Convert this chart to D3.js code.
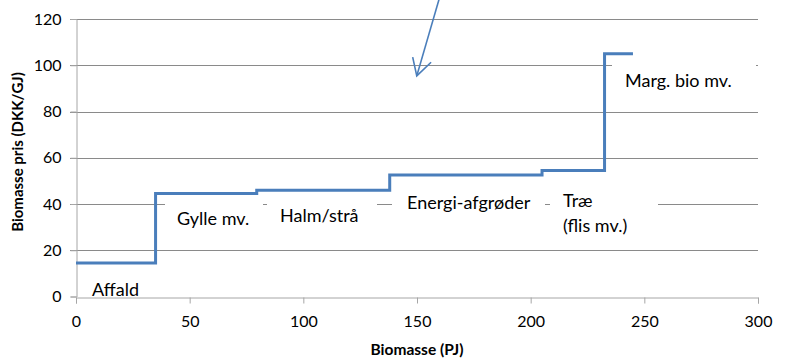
<!DOCTYPE html>
<html>
<head>
<meta charset="utf-8">
<script src="https://cdn.jsdelivr.net/npm/d3@7"></script>
<style>
  html, body { margin: 0; padding: 0; background: #fff; }
  svg { display: block; }
  text { font-family: Lato, "Open Sans", sans-serif; fill: #000; }
</style>
</head>
<body>
<svg id="chart" width="787" height="358"></svg>
<script>
// ---- data ----
const stepStarts = [0, 35, 79.5, 138, 205, 232.5];
const stepEnd = 245;
const prices = [14.5, 44.5, 46, 52.5, 54.5, 105];
const categories = ["Affald", "Gylle mv.", "Halm/strå", "Energi-afgrøder", "Træ\n(flis mv.)", "Marg. bio mv."];
const xTicks = [0, 50, 100, 150, 200, 250, 300];
const yTicks = [0, 20, 40, 60, 80, 100, 120];
const xTitle = "Biomasse (PJ)";
const yTitle = "Biomasse pris (DKK/GJ)";

// ---- layout ----
const W = 787, H = 358;
const plot = { left: 76, right: 758, top: 19, bottom: 296.5 };
const svg = d3.select("#chart");
const x = d3.scaleLinear().domain([0, 300]).range([plot.left, plot.right]);
const y = d3.scaleLinear().domain([0, 120]).range([plot.bottom, plot.top]);

const gridColor = "#8a8a8a";
const axisColor = "#a6a6a6";
const lineColor = "#4a7ebb";

// gridlines (y ticks > 0)
svg.append("g").selectAll("line").data(yTicks.filter(d => d > 0)).join("line")
  .attr("x1", plot.left - 6).attr("x2", plot.right)
  .attr("y1", d => Math.round(y(d)) + 0.5).attr("y2", d => Math.round(y(d)) + 0.5)
  .attr("stroke", gridColor).attr("stroke-width", 1);

// axes
const yAxis = d3.axisLeft(y).tickValues(yTicks).tickSize(6).tickPadding(9);
const gy = svg.append("g").attr("transform", `translate(${plot.left + 0.5},0)`).call(yAxis);
gy.select(".domain").attr("stroke", axisColor);
gy.selectAll(".tick line").attr("stroke", axisColor);
gy.selectAll(".tick text").style("font-size", "16px").style("font-family", "Lato, sans-serif").attr("fill", "#1a1a1a");

const xAxis = d3.axisBottom(x).tickValues(xTicks).tickSize(6).tickPadding(12);
const gx = svg.append("g").attr("transform", `translate(0,${Math.round(plot.bottom) + 0.5})`).call(xAxis);
gx.select(".domain").attr("stroke", axisColor);
gx.selectAll(".tick line").attr("stroke", axisColor);
gx.selectAll(".tick text").style("font-size", "16px").style("font-family", "Lato, sans-serif").attr("fill", "#1a1a1a");

// label boxes (white backgrounds hiding gridlines) in pixel layout
const labelLayout = [
  { box: null, tx: 92, ty: 296, },
  { box: [165, 196, 98, 34], tx: 177, ty: 225 },
  { box: [267, 196, 110, 32], tx: 280, ty: 222 },
  { box: [392, 186, 153, 30], tx: 407, ty: 209 },
  { box: [550, 184, 108, 62], tx: 563, ty: 207, lh: 25 },
  { box: [612, 58, 144, 40], tx: 625, ty: 87 }
];
const gl = svg.append("g");
labelLayout.forEach((L, i) => {
  if (L.box) gl.append("rect").attr("x", L.box[0]).attr("y", L.box[1])
    .attr("width", L.box[2]).attr("height", L.box[3]).attr("fill", "#fff");
  const t = gl.append("text").attr("x", L.tx).attr("y", L.ty).style("font-size", "18px");
  categories[i].split("\n").forEach((s, j) => {
    t.append("tspan").attr("x", L.tx).attr("dy", j === 0 ? 0 : (L.lh || 20)).text(s);
  });
});

// step line
const xs = stepStarts.concat([stepEnd]);
const ys = prices.concat([prices[prices.length - 1]]);
const line = d3.line().x((d, i) => x(xs[i])).y(d => y(d)).curve(d3.curveStepAfter);
svg.append("path").datum(ys).attr("d", line)
  .attr("fill", "none").attr("stroke", lineColor).attr("stroke-width", 3);

// arrow annotation (data units)
const arrowShaft = [[159.7, 128.5], [149.9, 95.4]];
const arrowArms = [[148.1, 103.5], [149.9, 95.4], [156.2, 101.3]];
const al = d3.line().x(d => x(d[0])).y(d => y(d[1]));
svg.append("path").datum(arrowShaft).attr("d", al).attr("fill", "none")
  .attr("stroke", lineColor).attr("stroke-width", 1.6);
svg.append("path").datum(arrowArms).attr("d", al).attr("fill", "none")
  .attr("stroke", lineColor).attr("stroke-width", 1.6);

// axis titles
svg.append("text").attr("x", (plot.left + plot.right) / 2).attr("y", 355)
  .attr("text-anchor", "middle").style("font-weight", "bold").style("font-size", "15.5px").text(xTitle);
svg.append("text").attr("transform", `translate(23,152) rotate(-90)`)
  .attr("text-anchor", "middle").style("font-weight", "bold").style("font-size", "15px").text(yTitle);
</script>
</body>
</html>
